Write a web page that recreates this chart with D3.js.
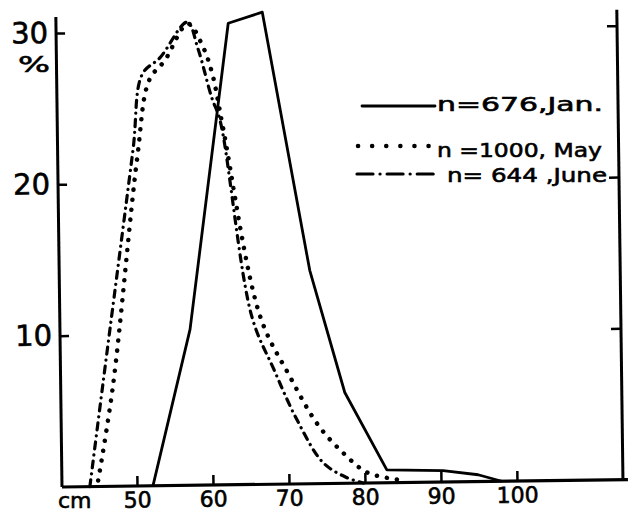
<!DOCTYPE html>
<html>
<head>
<meta charset="utf-8">
<script src="https://cdn.jsdelivr.net/npm/d3@7"></script>
<style>
body { margin: 0; background: #fff; }
svg { display: block; }
text { font-family: "DejaVu Sans", sans-serif; fill: #000; stroke: #000; stroke-width: 0.6px; }
</style>
</head>
<body>
<div id="chart"></div>
<script>
// length classes (cm) and share of catch (%)
var janCm  = [52.1, 57.25, 62.8, 67.3, 73.1, 77.5, 82.9, 90.3, 94.9, 98];
var janPct = [0, 10.3, 30.5, 31.2, 14.1, 6.0, 0.85, 0.75, 0.45, 0];

var mayCm  = [44.9, 47.0, 50.6, 52.3, 54.4, 57.5, 59.4, 60.6, 61.9, 66.5, 70.2, 73.9, 77.2, 80.3, 84.35];
var mayPct = [0.4, 6.6, 21.7, 26.8, 28.1, 30.5, 29.0, 27.2, 23.7, 11.1, 7.2, 3.9, 2.0, 0.7, 0.2];

var juneCm  = [43.8, 45.7, 50.05, 51.4, 53.8, 57.4, 58.8, 60.5, 61.55, 65.4, 68.2, 71.2, 74.5, 77.5, 79.8];
var junePct = [0, 6.8, 22.2, 27.2, 28.3, 30.6, 28.8, 25.6, 24.1, 11.1, 7.6, 4.2, 1.4, 0.4, 0];

var xTicks = [50, 60, 70, 80, 90, 100];
var yTicks = [10, 20, 30];
var legendLabels = ['n=676,Jan.', 'n =1000, May', 'n= 644 ,June'];

var width = 637, height = 519;

var svg = d3.select('#chart')
  .append('svg')
    .attr('width', width)
    .attr('height', height);

var x = d3.scaleLinear().domain([50, 100]).range([137, 517]);
var y = d3.scaleLinear().domain([0, 30]).range([487, 33]);

// the paper sits a little crooked
var plot = svg.append('g')
  .attr('transform', 'rotate(-0.75,62,487)');

// frame
plot.append('line')
  .attr('x1', 62).attr('x2', 62).attr('y1', 17).attr('y2', 487)
  .attr('stroke', '#000').attr('stroke-width', 3);
plot.append('line')
  .attr('x1', 623).attr('x2', 623).attr('y1', 17).attr('y2', 487)
  .attr('stroke', '#000').attr('stroke-width', 3);
plot.append('line')
  .attr('x1', 62).attr('x2', 628).attr('y1', 487).attr('y2', 487)
  .attr('stroke', '#000').attr('stroke-width', 3.2);

var xAxis = plot.append('g')
  .attr('transform', 'translate(0,487)')
  .call(d3.axisBottom(x).tickValues(xTicks).tickSizeInner(-10).tickSizeOuter(0).tickPadding(6));

var yAxis = plot.append('g')
  .attr('transform', 'translate(62,0)')
  .call(d3.axisLeft(y).tickValues(yTicks).tickSizeInner(-9).tickSizeOuter(0).tickPadding(8));

var yAxisR = plot.append('g')
  .attr('transform', 'translate(623,0)')
  .call(d3.axisRight(y).tickValues(yTicks).tickSizeInner(-10).tickSizeOuter(0).tickFormat(''));

plot.selectAll('.domain').remove();
plot.selectAll('.tick line').attr('stroke', '#000').attr('stroke-width', 2.5);
xAxis.selectAll('text').attr('font-size', 22).attr('font-family', '"DejaVu Sans", sans-serif');
yAxis.selectAll('text').attr('font-size', 29).attr('font-family', '"DejaVu Sans", sans-serif');

var straight = d3.line()
  .x(function (d) { return x(d[0]); })
  .y(function (d) { return y(d[1]); });

var smooth = d3.line()
  .curve(d3.curveCatmullRom.alpha(0.5))
  .x(function (d) { return x(d[0]); })
  .y(function (d) { return y(d[1]); });

plot.append('path')
  .datum(d3.zip(juneCm, junePct))
  .attr('d', smooth)
  .attr('fill', 'none')
  .attr('stroke', '#000')
  .attr('stroke-width', 3.2)
  .attr('stroke-linecap', 'round')
  .attr('stroke-dasharray', '7 6 0.1 6');

plot.append('path')
  .datum(d3.zip(mayCm, mayPct))
  .attr('d', smooth)
  .attr('fill', 'none')
  .attr('stroke', '#000')
  .attr('stroke-width', 4.5)
  .attr('stroke-linecap', 'round')
  .attr('stroke-dasharray', '0.1 10');

plot.append('path')
  .datum(d3.zip(janCm, janPct))
  .attr('d', straight)
  .attr('fill', 'none')
  .attr('stroke', '#000')
  .attr('stroke-width', 2.8)
  .attr('stroke-linejoin', 'round');

// loose lettering
svg.append('text')
  .attr('x', 18).attr('y', 72)
  .attr('font-size', 22)
  .attr('textLength', 32).attr('lengthAdjust', 'spacingAndGlyphs')
  .text('%');

svg.append('text')
  .attr('x', 58).attr('y', 508)
  .attr('font-size', 22)
  .text('cm');

// legend
var legend = svg.append('g');
var keyDash = ['none', '0.1 14', '16 7 0.1 7'];
var keyWidth = [2.8, 4.5, 3.2];
var keyX = [[362, 435], [358, 432], [357, 440]];
var keyY = [106, 146, 174];
var textX = [437, 437, 447];
var textY = [111, 157, 182];
var textLen = [166, 165, 160];

legendLabels.forEach(function (label, i) {
  legend.append('line')
    .attr('x1', keyX[i][0]).attr('x2', keyX[i][1])
    .attr('y1', keyY[i]).attr('y2', keyY[i])
    .attr('stroke', '#000')
    .attr('stroke-width', keyWidth[i])
    .attr('stroke-linecap', 'round')
    .attr('stroke-dasharray', keyDash[i]);
  legend.append('text')
    .attr('x', textX[i]).attr('y', textY[i])
    .attr('font-size', 20)
    .attr('textLength', textLen[i]).attr('lengthAdjust', 'spacingAndGlyphs')
    .text(label);
});
</script>
</body>
</html>
